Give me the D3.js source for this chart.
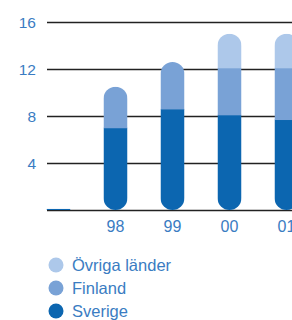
<!DOCTYPE html>
<html><head><meta charset="utf-8">
<script src="https://cdn.jsdelivr.net/npm/d3@7"></script>
<style>body{margin:0;background:#fff}svg{display:block}</style>
</head><body>
<svg id="c" width="292" height="320"></svg>
<script>
const categories = ["97","98","99","00","01"];
const tickLabels = ["","98","99","00","01"];
const sverige = [0.1, 7.0, 8.6, 8.1, 7.7];
const finland = [0, 3.5, 4.0, 4.0, 4.4];
const ovriga  = [0, 0, 0, 2.9, 2.9];
const yTicks = [4, 8, 12, 16];
const seriesNames = ["Övriga länder","Finland","Sverige"];
const colors = {"Sverige":"#0c66b0","Finland":"#79a2d6","Övriga länder":"#adc8ea"};

const svg = d3.select("#c");
const x = d3.scalePoint().domain(categories).range([58.5, 286.5]);
const y = d3.scaleLinear().domain([0,16]).range([210,22]);
const bw = 24;
const font = "Liberation Sans, Arial, sans-serif";
const txt = "#3a7cc2";

// grid
svg.append("g").selectAll("line").data([0, ...yTicks]).join("line")
  .attr("x1",47).attr("x2",292).attr("y1",d=>y(d)+0.5).attr("y2",d=>y(d)+0.5)
  .attr("stroke","#222").attr("stroke-width",1.3);
svg.append("g").selectAll("text").data(yTicks).join("text")
  .attr("x",36).attr("y",d=>y(d)+5.5).attr("text-anchor","end")
  .attr("font-family",font).attr("font-size",15.5).attr("fill",txt).text(d=>d);

// bars as pills, clipped
const data = categories.map((c,i)=>({c, s:sverige[i], f:finland[i], o:ovriga[i]}));
const defs = svg.append("defs");
data.forEach((d,i)=>{
  const total = d.s+d.f+d.o;
  const cx = x(d.c);
  const h = y(0)-y(total);
  const r = Math.min(bw/2, h/2);
  defs.append("clipPath").attr("id","cp"+i).append("rect")
    .attr("x",cx-bw/2).attr("y",y(total)).attr("width",bw).attr("height",h)
    .attr("rx",r).attr("ry",r);
  const g = svg.append("g").attr("clip-path","url(#cp"+i+")");
  const segs = [[0,d.s,"Sverige"],[d.s,d.s+d.f,"Finland"],[d.s+d.f,total,"Övriga länder"]];
  segs.forEach(([a,b,n])=>{
    if(b>a) g.append("rect").attr("x",cx-bw/2).attr("width",bw)
      .attr("y",y(b)).attr("height",y(a)-y(b)+0.5).attr("fill",colors[n]);
  });
});

// x labels
svg.append("g").selectAll("text").data(categories).join("text")
  .attr("x",d=>x(d)).attr("y",232).attr("text-anchor","middle")
  .attr("font-family",font).attr("font-size",16).attr("fill",txt)
  .text((d,i)=>tickLabels[i]);

// legend
const lg = svg.append("g").selectAll("g").data(seriesNames).join("g")
  .attr("transform",(d,i)=>`translate(56,${265+i*23})`);
lg.append("circle").attr("r",7.5).attr("fill",d=>colors[d]);
lg.append("text").attr("x",16).attr("y",6).attr("font-family",font)
  .attr("font-size",16.5).attr("fill",txt).text(d=>d);
</script>
</body></html>
